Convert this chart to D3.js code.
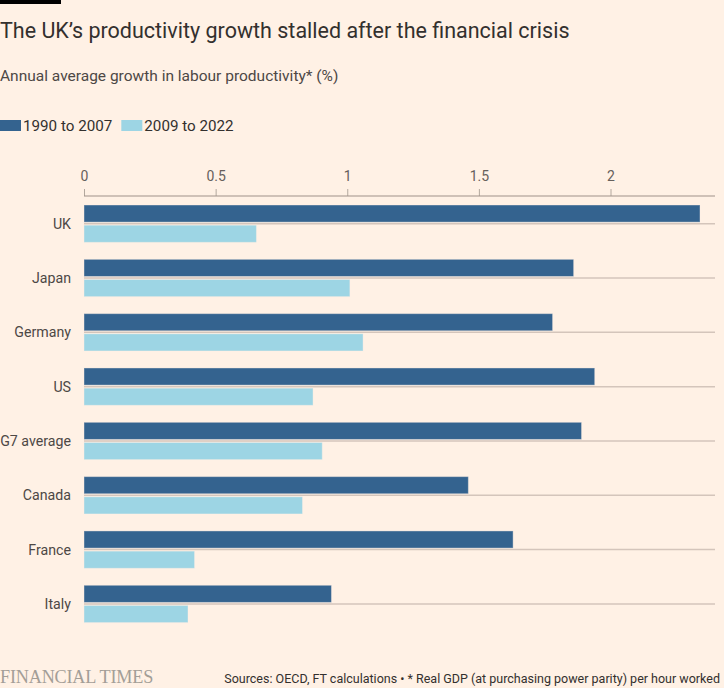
<!DOCTYPE html>
<html>
<head>
<meta charset="utf-8">
<script src="https://cdn.jsdelivr.net/npm/d3@7"></script>
<style>
  html, body { margin: 0; padding: 0; background: #FFF1E5; }
  svg { display: block; }
</style>
</head>
<body>
<svg id="chart" width="724" height="688"></svg>
<script>
const categories = ["UK", "Japan", "Germany", "US", "G7 average", "Canada", "France", "Italy"];
const seriesNames = ["1990 to 2007", "2009 to 2022"];
const values1990to2007 = [2.34, 1.86, 1.78, 1.94, 1.89, 1.46, 1.63, 0.94];
const values2009to2022 = [0.655, 1.01, 1.06, 0.87, 0.905, 0.83, 0.42, 0.395];
const tickValues = [0, 0.5, 1, 1.5, 2];
const colors = ["#34638f", "#9dd5e4"];

const data = categories.map((c, i) => ({
  category: c,
  values: [
    { series: seriesNames[0], value: values1990to2007[i] },
    { series: seriesNames[1], value: values2009to2022[i] }
  ]
}));

const svg = d3.select("#chart");
const font = "Roboto, 'Noto Sans', sans-serif";
const textCol = "#33302e";
const subCol = "#4d4845";

svg.append("rect").attr("width", 724).attr("height", 688).attr("fill", "#FFF1E5");

// top bar
svg.append("rect").attr("x", 0).attr("y", 0).attr("width", 61).attr("height", 4).attr("fill", "#000");

// title
svg.append("text").attr("x", 0).attr("y", 38)
  .attr("font-family", font).attr("font-size", 21.5).attr("fill", textCol)
  .text("The UK\u2019s productivity growth stalled after the financial crisis");

svg.append("text").attr("x", 0).attr("y", 81)
  .attr("font-family", font).attr("font-size", 15.5).attr("fill", subCol)
  .text("Annual average growth in labour productivity* (%)");

// legend
const legend = svg.append("g");
let lx = 0;
seriesNames.forEach((s, i) => {
  legend.append("rect").attr("x", lx).attr("y", 120).attr("width", 21).attr("height", 11).attr("fill", colors[i]);
  const t = legend.append("text").attr("x", lx + 23).attr("y", 131)
    .attr("font-family", font).attr("font-size", 15.2).attr("fill", textCol).text(s);
  lx = lx + 23 + t.node().getComputedTextLength() + 9;
});

// scales
const x = d3.scaleLinear().domain([0, 2]).range([84, 610.5]);
const y = d3.scaleBand().domain(categories).range([205, 622.6]).paddingInner(0.313).paddingOuter(0);
const ys = d3.scaleBand().domain(seriesNames).range([0, y.bandwidth()]).paddingInner(0.15).paddingOuter(0);

// axis
const axisY = 196;
const axis = d3.axisTop(x).tickValues(tickValues).tickSize(7).tickPadding(8)
  .tickFormat(d => d3.format("")(d));
const ag = svg.append("g").attr("transform", `translate(0,${axisY})`).call(axis);
ag.select(".domain").remove();
ag.selectAll(".tick line").attr("stroke", "#b3a89e");
ag.selectAll(".tick text").attr("font-family", font).attr("font-size", 14).attr("fill", "#66605c");
ag.append("line").attr("x1", 84).attr("x2", 715).attr("y1", 0).attr("y2", 0).attr("stroke", "#a0918a").attr("stroke-width", 1.2);

// category rows
const rows = svg.append("g").selectAll("g").data(data).join("g")
  .attr("transform", d => `translate(0,${y(d.category)})`);

rows.append("line")
  .attr("x1", 84).attr("x2", 715)
  .attr("y1", y.bandwidth() / 2).attr("y2", y.bandwidth() / 2)
  .attr("stroke", "#d4c5bb").attr("stroke-width", 1.5);

rows.selectAll("rect").data(d => d.values).join("rect")
  .attr("x", x(0))
  .attr("y", d => ys(d.series))
  .attr("width", d => x(d.value) - x(0))
  .attr("height", ys.bandwidth())
  .attr("fill", (d, i) => colors[i])
  .attr("stroke", "#FFF1E5").attr("stroke-opacity", 0.4).attr("stroke-width", 1);

rows.append("text")
  .attr("x", 71).attr("y", y.bandwidth() / 2).attr("dy", "0.35em")
  .attr("text-anchor", "end")
  .attr("font-family", font).attr("font-size", 14.2).attr("fill", subCol)
  .text(d => d.category);

// footer
svg.append("text").attr("x", 0).attr("y", 683)
  .attr("font-family", "'Liberation Serif', 'DejaVu Serif', serif").attr("font-size", 18.2)
  .attr("fill", "#a39e97").attr("letter-spacing", "-0.2")
  .text("FINANCIAL TIMES");

svg.append("text").attr("x", 720).attr("y", 683)
  .attr("text-anchor", "end")
  .attr("font-family", font).attr("font-size", 12.5).attr("fill", textCol)
  .text("Sources: OECD, FT calculations \u2022 * Real GDP (at purchasing power parity) per hour worked");
</script>
</body>
</html>
